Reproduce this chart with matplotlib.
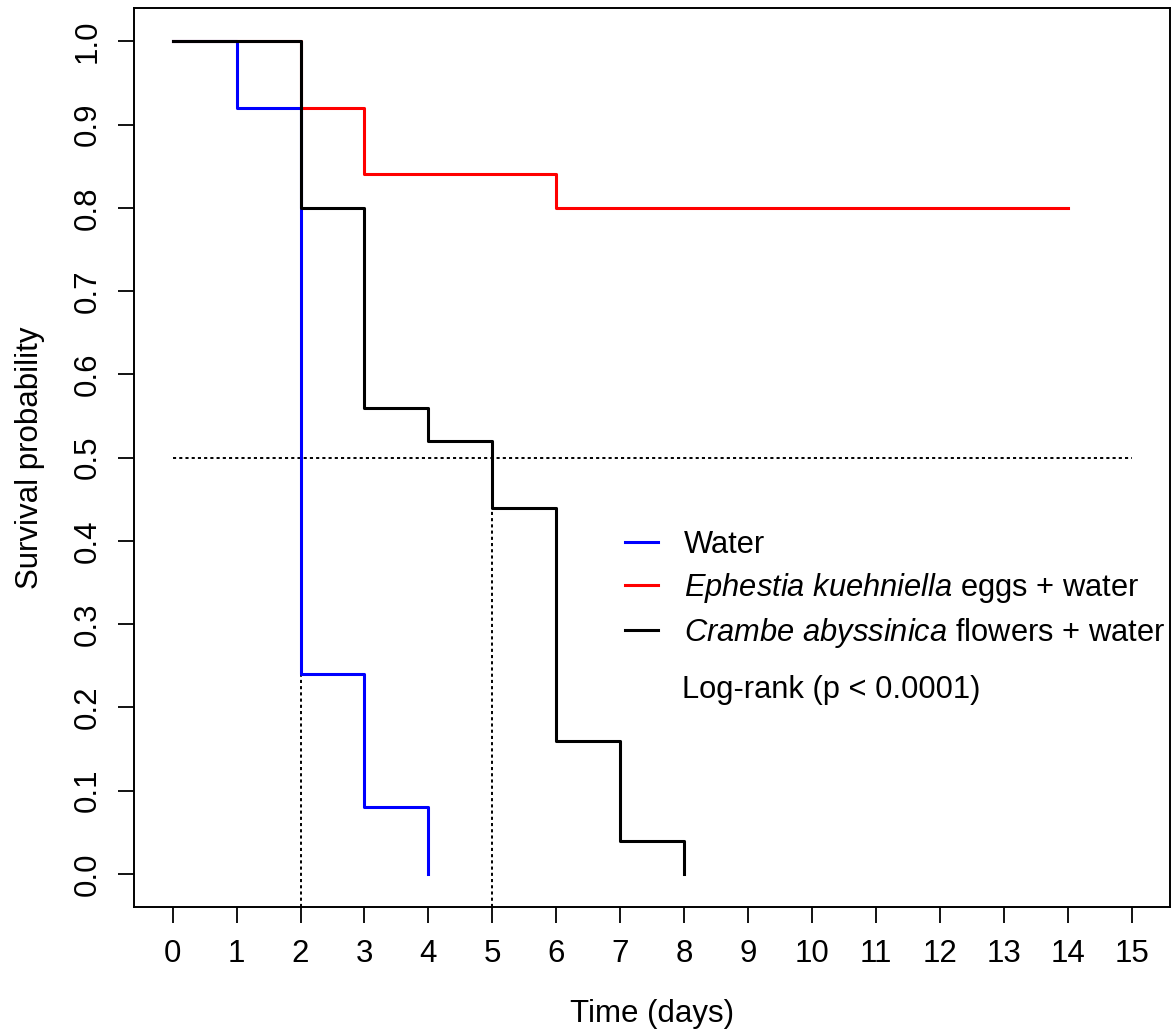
import matplotlib
matplotlib.use("Agg")
import matplotlib.pyplot as plt

plt.rcParams['font.family'] = ['Liberation Sans', 'DejaVu Sans']
plt.rcParams['mathtext.fontset'] = 'custom'
plt.rcParams['mathtext.rm'] = 'Liberation Sans'
plt.rcParams['mathtext.it'] = 'Liberation Sans:italic'

# Kaplan-Meier step values
water_t = [0, 1, 2, 3, 4]
water_s = [1.0, 0.92, 0.24, 0.08, 0.0]

eggs_t = [0, 2, 3, 6, 14]
eggs_s = [1.0, 0.92, 0.84, 0.80, 0.80]

flowers_t = [0, 2, 3, 4, 5, 6, 7, 8]
flowers_s = [1.0, 0.80, 0.56, 0.52, 0.44, 0.16, 0.04, 0.0]

medians = [2, 5]
labels = ['Water',
          r'$\it{Ephestia\ kuehniella}$ eggs + water',
          r'$\it{Crambe\ abyssinica}$ flowers + water']
colors = ['#0000ff', '#ff0000', '#000000']

fs = 22.5

fig = plt.figure(figsize=(11.75, 10.33), dpi=100)
ax = fig.add_axes([0.1143, 0.1217, 0.8814, 0.8706])

lw = 2.2
h1, = ax.step(water_t, water_s, where='post', color=colors[0], lw=lw)
h2, = ax.step(eggs_t, eggs_s, where='post', color=colors[1], lw=lw)
h3, = ax.step(flowers_t, flowers_s, where='post', color=colors[2], lw=lw)

# median lines
dot = (0, (1.6, 1.6))
ax.plot([0, 15], [0.5, 0.5], color='black', lw=1.4, ls=dot, zorder=1)
for m in medians:
    ax.plot([m, m], [-0.04, 0.5], color='black', lw=1.4, ls=dot, zorder=1)

ax.set_xlim(-0.6, 15.6)
ax.set_ylim(-0.04, 1.04)
ax.set_xticks(range(0, 16))
ax.set_yticks([i / 10 for i in range(11)])
ax.set_yticklabels(['%.1f' % (i / 10) for i in range(11)], rotation=90, va='center')
ax.tick_params(axis='both', length=11.5, width=1.3, labelsize=fs, pad=11)
for sp in ax.spines.values():
    sp.set_linewidth(1.4)

ax.set_xlabel('Time (days)', fontsize=fs, labelpad=22)
ax.set_ylabel('Survival probability', fontsize=fs, labelpad=20)

ax.legend([h1, h2, h3], labels, loc='upper left', bbox_to_anchor=(0.4738, 0.4195),
          frameon=False, fontsize=22.2, handlelength=1.06, handletextpad=0.86,
          labelspacing=0.36, borderpad=0, borderaxespad=0)
ax.text(0.529, 0.2416, 'Log-rank (p < 0.0001)', transform=ax.transAxes,
        fontsize=22.2, va='center', ha='left')

fig.savefig('out.png', dpi=100)
